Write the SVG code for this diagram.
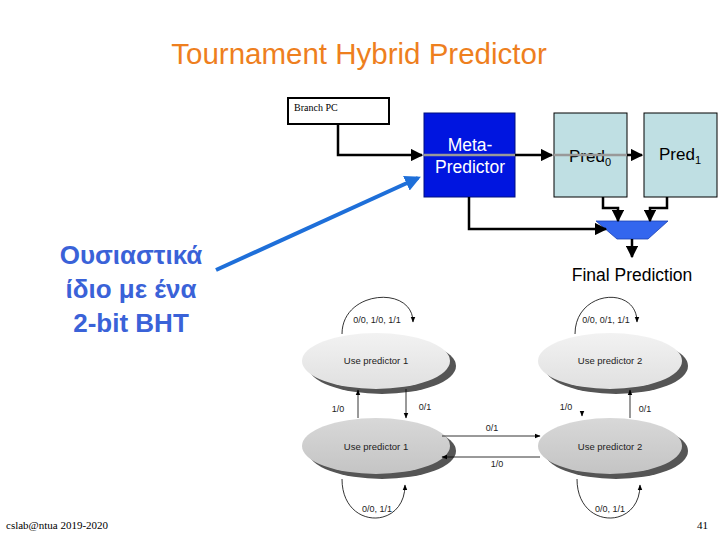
<svg xmlns="http://www.w3.org/2000/svg" width="720" height="540" viewBox="0 0 720 540">
<defs>
<marker id="ah" viewBox="0 0 10 10" refX="9" refY="5" markerWidth="5" markerHeight="5" orient="auto"><path d="M0,0L10,5L0,10z" fill="#000"/></marker>
<marker id="as" viewBox="0 0 10 10" refX="9" refY="5" markerWidth="7" markerHeight="7" orient="auto"><path d="M0,1L10,5L0,9z" fill="#000"/></marker>
<marker id="ab" viewBox="0 0 10 10" refX="8" refY="5" markerWidth="4" markerHeight="4" orient="auto"><path d="M0,0L10,5L0,10z" fill="#1E6FD9"/></marker>
<linearGradient id="g1" x1="0" y1="0" x2="0" y2="1"><stop offset="0" stop-color="#f2f2f2"/><stop offset="1" stop-color="#e0e0e0"/></linearGradient>
<linearGradient id="g2" x1="0" y1="0" x2="0" y2="1"><stop offset="0" stop-color="#d8d8d8"/><stop offset="1" stop-color="#c4c4c4"/></linearGradient>
</defs>
<style>
.s{font-family:"Liberation Sans",Arial,sans-serif}
.w{stroke:#000;stroke-width:2.5;fill:none}
.t{stroke:#000;stroke-width:0.8;fill:none}
.lb{font-family:"Liberation Sans",Arial,sans-serif;font-size:9px;fill:#222;text-anchor:middle}
.st{font-family:"Liberation Sans",Arial,sans-serif;font-size:9.5px;fill:#222;text-anchor:middle}
.sh{fill:#555}
</style>
<rect width="720" height="540" fill="#fff"/>
<text x="359" y="64" class="s" font-size="29.5" fill="#EE7F1E" text-anchor="middle">Tournament Hybrid Predictor</text>
<g id="branchpc"><rect x="288" y="98" width="101" height="26" fill="#fff" stroke="#000" stroke-width="2"/><text x="294" y="111" font-family="'Liberation Serif',serif" font-size="10" fill="#000">Branch PC</text></g>
<g id="meta"><rect x="424" y="113" width="91" height="84" fill="#0015E0" stroke="#001080" stroke-width="1"/><text x="470" y="151" class="s" font-size="17.5" fill="#fff" text-anchor="middle">Meta-</text><text x="470" y="173" class="s" font-size="17.5" fill="#fff" text-anchor="middle">Predictor</text></g>
<g id="pred0"><rect x="554" y="113" width="73" height="84" fill="#BFDFE3" stroke="#000" stroke-width="1"/><text x="590" y="162" class="s" font-size="17" fill="#000" text-anchor="middle">Pred<tspan font-size="11" dy="4">0</tspan></text></g>
<g id="pred1"><rect x="644" y="113" width="73" height="84" fill="#BFDFE3" stroke="#000" stroke-width="1"/><text x="680" y="160" class="s" font-size="17" fill="#000" text-anchor="middle">Pred<tspan font-size="11" dy="4">1</tspan></text></g>
<g id="mux"><path d="M596,221L668,221L648,239L617,239z" fill="#3366EE" stroke="#1a3fb0" stroke-width="0.8"/></g>
<g id="connectors">
<path class="w" d="M338,124V155H422" marker-end="url(#ah)"/>
<path d="M424,155H515" stroke="#999" stroke-width="2.5"/>
<path class="w" d="M515,155H552" marker-end="url(#ah)"/>
<path d="M554,155H627" stroke="#999" stroke-width="2.5"/>
<path class="w" d="M627,155H642" marker-end="url(#ah)"/>
<path class="w" d="M603,197V208H618V221" marker-end="url(#ah)"/>
<path class="w" d="M667,197V208H650V221" marker-end="url(#ah)"/>
<path class="w" d="M469,197V229H606" marker-end="url(#ah)"/>
<path class="w" d="M632,239V257" marker-end="url(#ah)"/>
<path d="M216,270L418,178" stroke="#1E6FD9" stroke-width="4" fill="none" marker-end="url(#ab)"/>
</g>
<text x="632" y="281" class="s" font-size="17.5" fill="#000" text-anchor="middle">Final Prediction</text>
<g id="note" class="s" font-size="26" font-weight="bold" fill="#3A62D8" text-anchor="middle"><text x="131" y="264">Ουσιαστικά</text><text x="131" y="298">ίδιο με ένα</text><text x="131" y="332">2-bit BHT</text></g>
<g id="s1"><ellipse cx="382" cy="366" rx="74" ry="28" class="sh"/><ellipse cx="376" cy="361" rx="74" ry="28" fill="url(#g1)"/><text x="376" y="364" class="st">Use predictor 1</text></g>
<g id="s2"><ellipse cx="616" cy="366" rx="72" ry="28" class="sh"/><ellipse cx="610" cy="361" rx="72" ry="28" fill="url(#g1)"/><text x="610" y="364" class="st">Use predictor 2</text></g>
<g id="s3"><ellipse cx="382" cy="451" rx="74" ry="28" class="sh"/><ellipse cx="376" cy="446" rx="74" ry="28" fill="url(#g2)"/><text x="376" y="450" class="st">Use predictor 1</text></g>
<g id="s4"><ellipse cx="616" cy="451" rx="72" ry="28" class="sh"/><ellipse cx="610" cy="446" rx="72" ry="28" fill="url(#g2)"/><text x="610" y="450" class="st">Use predictor 2</text></g>
<g id="fsm-connectors">
<path class="t" d="M342,334C342,290 413,285 413,322" marker-end="url(#as)"/>
<path class="t" d="M575,334C575,290 637,285 637,322" marker-end="url(#as)"/>
<path class="t" d="M342,479C342,530 405,530 405,485" marker-end="url(#as)"/>
<path class="t" d="M577,479C577,530 640,530 640,485" marker-end="url(#as)"/>
<path class="t" d="M358,418V390" marker-end="url(#as)"/>
<path class="t" d="M406,389V418" marker-end="url(#as)"/>
<path class="t" d="M582,411V416" marker-end="url(#as)"/>
<path class="t" d="M630,418V390" marker-end="url(#as)"/>
<path class="t" d="M442,436H540" marker-end="url(#as)"/>
<path class="t" d="M540,457H442" marker-end="url(#as)"/>
</g>
<text x="377" y="323" class="lb">0/0, 1/0, 1/1</text>
<text x="606" y="323" class="lb">0/0, 0/1, 1/1</text>
<text x="377" y="512" class="lb">0/0, 1/1</text>
<text x="610" y="512" class="lb">0/0, 1/1</text>
<text x="338" y="412" class="lb">1/0</text>
<text x="425" y="410" class="lb">0/1</text>
<text x="566" y="410" class="lb">1/0</text>
<text x="645" y="412" class="lb">0/1</text>
<text x="492" y="431" class="lb">0/1</text>
<text x="497" y="467" class="lb">1/0</text>
<text x="6" y="529" font-family="'Liberation Serif',serif" font-size="11" fill="#000">cslab@ntua 2019-2020</text>
<text x="708" y="529" font-family="'Liberation Serif',serif" font-size="11" fill="#000" text-anchor="end">41</text>
</svg>
